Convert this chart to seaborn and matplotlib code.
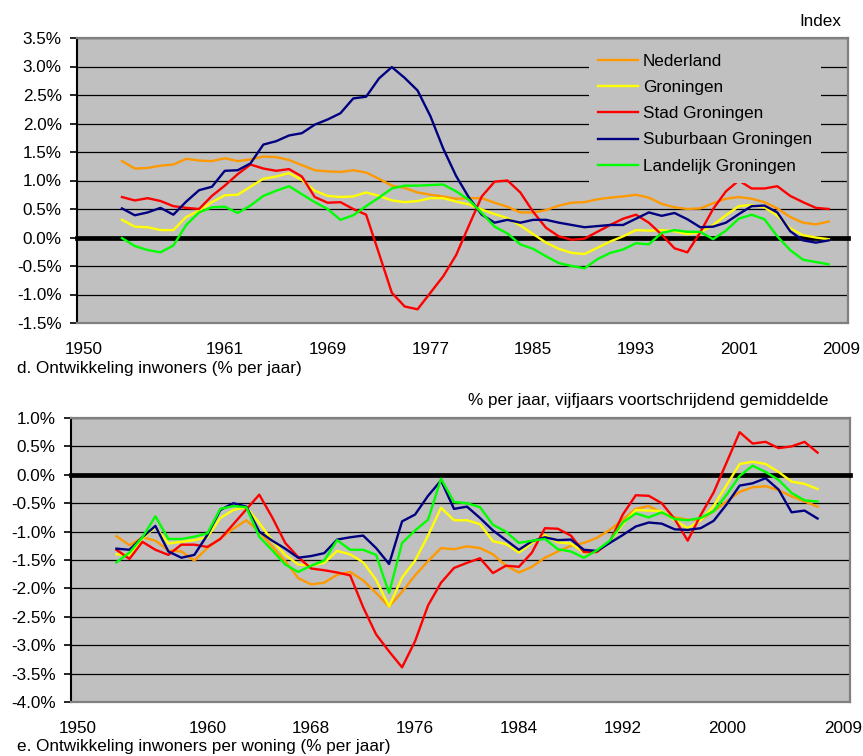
import numpy as np
import pandas as pd
import seaborn as sns
import matplotlib
matplotlib.use("Agg")
import matplotlib.pyplot as plt
from matplotlib.ticker import FuncFormatter, MultipleLocator

plt.rcParams['font.family'] = ['Liberation Sans', 'DejaVu Sans']

# ---------------- data ----------------
series_names = ["Nederland", "Groningen", "Stad Groningen", "Suburbaan Groningen", "Landelijk Groningen"]
colors = ["#FF9900", "#FFFF00", "#FF0000", "#000080", "#00FF00"]

years_d = list(range(1953, 2009))   # panel d: 1953-2008
years_e = list(range(1953, 2008))   # panel e: 1953-2007

# d. Ontwikkeling inwoners (% per jaar)
d_nederland = [1.34, 1.21, 1.22, 1.26, 1.28, 1.38, 1.35, 1.34, 1.39, 1.34, 1.37, 1.42, 1.41, 1.36, 1.27,
               1.18, 1.16, 1.15, 1.18, 1.14, 1.03, 0.91, 0.87, 0.79, 0.75, 0.72, 0.68, 0.69, 0.69, 0.61,
               0.54, 0.44, 0.44, 0.48, 0.56, 0.61, 0.62, 0.67, 0.70, 0.72, 0.75, 0.70, 0.59, 0.53, 0.50,
               0.51, 0.60, 0.68, 0.71, 0.68, 0.62, 0.51, 0.36, 0.26, 0.23, 0.28]
d_groningen = [0.31, 0.19, 0.18, 0.13, 0.13, 0.36, 0.47, 0.62, 0.74, 0.75, 0.89, 1.03, 1.07, 1.13, 1.01,
               0.82, 0.73, 0.71, 0.72, 0.79, 0.73, 0.65, 0.62, 0.64, 0.69, 0.69, 0.63, 0.58, 0.49, 0.41,
               0.34, 0.21, 0.06, -0.09, -0.20, -0.27, -0.29, -0.18, -0.07, 0.02, 0.13, 0.12, 0.13, 0.11,
               0.06, 0.09, 0.22, 0.39, 0.55, 0.57, 0.53, 0.38, 0.16, 0.04, 0.00, -0.03]
d_stad = [0.71, 0.65, 0.69, 0.64, 0.55, 0.52, 0.50, 0.73, 0.91, 1.11, 1.28, 1.21, 1.17, 1.20, 1.07,
          0.71, 0.61, 0.62, 0.50, 0.40, -0.28, -0.97, -1.21, -1.26, -0.97, -0.68, -0.31, 0.21, 0.72, 0.98,
          1.00, 0.79, 0.45, 0.17, 0.02, -0.04, -0.02, 0.10, 0.22, 0.33, 0.40, 0.26, 0.05, -0.19, -0.26,
          0.09, 0.50, 0.81, 1.00, 0.86, 0.86, 0.90, 0.73, 0.62, 0.52, 0.50]
d_suburbaan = [0.51, 0.39, 0.44, 0.52, 0.40, 0.63, 0.83, 0.89, 1.17, 1.18, 1.30, 1.63, 1.69, 1.79, 1.83,
               1.98, 2.07, 2.18, 2.44, 2.47, 2.79, 2.99, 2.80, 2.58, 2.13, 1.56, 1.08, 0.70, 0.40, 0.26,
               0.31, 0.26, 0.31, 0.31, 0.26, 0.22, 0.18, 0.20, 0.22, 0.22, 0.33, 0.44, 0.38, 0.43, 0.32,
               0.18, 0.19, 0.26, 0.41, 0.55, 0.56, 0.44, 0.11, -0.05, -0.09, -0.05]
d_landelijk = [-0.01, -0.15, -0.22, -0.26, -0.14, 0.22, 0.44, 0.53, 0.54, 0.43, 0.56, 0.73, 0.82, 0.90, 0.76,
               0.62, 0.50, 0.31, 0.39, 0.55, 0.70, 0.86, 0.91, 0.91, 0.92, 0.93, 0.81, 0.66, 0.43, 0.19,
               0.07, -0.12, -0.20, -0.33, -0.45, -0.50, -0.54, -0.38, -0.27, -0.21, -0.10, -0.12, 0.08, 0.13,
               0.10, 0.10, -0.03, 0.12, 0.33, 0.40, 0.32, 0.02, -0.22, -0.39, -0.43, -0.47]

# e. Ontwikkeling inwoners per woning (% per jaar)
e_nederland = [-1.08, -1.24, -1.10, -1.16, -1.33, -1.35, -1.51, -1.29, -1.12, -0.95, -0.80, -1.00, -1.26, -1.52,
               -1.82, -1.93, -1.90, -1.76, -1.71, -1.86, -2.08, -2.32, -2.06, -1.77, -1.52, -1.29, -1.31, -1.26,
               -1.29, -1.40, -1.60, -1.72, -1.62, -1.46, -1.35, -1.25, -1.20, -1.11, -0.97, -0.79, -0.60, -0.55,
               -0.67, -0.75, -0.79, -0.79, -0.64, -0.47, -0.30, -0.22, -0.20, -0.27, -0.38, -0.47, -0.56]
e_groningen = [-1.40, -1.41, -1.12, -0.92, -1.21, -1.18, -1.15, -1.10, -0.76, -0.62, -0.57, -0.85, -1.16, -1.41,
               -1.58, -1.60, -1.55, -1.34, -1.40, -1.54, -1.85, -2.32, -1.81, -1.51, -1.07, -0.58, -0.80, -0.80,
               -0.87, -1.17, -1.22, -1.37, -1.20, -1.06, -1.19, -1.21, -1.37, -1.35, -1.17, -0.87, -0.62, -0.63,
               -0.64, -0.80, -0.94, -0.80, -0.55, -0.18, 0.19, 0.23, 0.19, 0.05, -0.12, -0.16, -0.25]
e_stad = [-1.32, -1.48, -1.18, -1.32, -1.41, -1.23, -1.23, -1.27, -1.13, -0.87, -0.61, -0.35, -0.75, -1.20,
          -1.45, -1.65, -1.68, -1.72, -1.77, -2.33, -2.81, -3.11, -3.39, -2.93, -2.30, -1.90, -1.64, -1.55,
          -1.47, -1.73, -1.60, -1.62, -1.37, -0.94, -0.95, -1.07, -1.36, -1.36, -1.18, -0.70, -0.36, -0.37,
          -0.50, -0.78, -1.16, -0.71, -0.31, 0.22, 0.75, 0.55, 0.58, 0.47, 0.50, 0.58, 0.39]
e_suburbaan = [-1.30, -1.32, -1.10, -0.90, -1.35, -1.46, -1.41, -1.06, -0.62, -0.50, -0.56, -1.00, -1.16, -1.30,
               -1.46, -1.43, -1.38, -1.14, -1.10, -1.07, -1.29, -1.57, -0.82, -0.70, -0.37, -0.10, -0.60, -0.56,
               -0.76, -0.98, -1.15, -1.32, -1.17, -1.10, -1.15, -1.14, -1.32, -1.34, -1.20, -1.06, -0.91, -0.84,
               -0.86, -0.96, -0.97, -0.94, -0.81, -0.52, -0.19, -0.15, -0.06, -0.26, -0.66, -0.63, -0.77]
e_landelijk = [-1.54, -1.37, -1.10, -0.73, -1.13, -1.13, -1.09, -1.03, -0.60, -0.55, -0.57, -1.09, -1.33, -1.58,
               -1.71, -1.60, -1.51, -1.15, -1.32, -1.32, -1.41, -2.08, -1.20, -0.98, -0.79, -0.07, -0.48, -0.50,
               -0.57, -0.88, -1.00, -1.20, -1.16, -1.13, -1.31, -1.35, -1.46, -1.33, -1.16, -0.84, -0.68, -0.75,
               -0.66, -0.78, -0.80, -0.76, -0.64, -0.35, -0.02, 0.16, 0.05, -0.09, -0.32, -0.45, -0.47]

xticks_d = [1950, 1961, 1969, 1977, 1985, 1993, 2001, 2009]
xticks_e = [1950, 1960, 1968, 1976, 1984, 1992, 2000, 2009]

title_d = "d. Ontwikkeling inwoners (% per jaar)"
title_e = "e. Ontwikkeling inwoners per woning (% per jaar)"
note_d = "Index"
note_e = "% per jaar, vijfjaars voortschrijdend gemiddelde"


def long_df(years, arrays):
    frames = []
    for name, vals in zip(series_names, arrays):
        frames.append(pd.DataFrame({"jaar": years, "waarde": vals, "reeks": name}))
    return pd.concat(frames, ignore_index=True)


df_d = long_df(years_d, [d_nederland, d_groningen, d_stad, d_suburbaan, d_landelijk])
df_e = long_df(years_e, [e_nederland, e_groningen, e_stad, e_suburbaan, e_landelijk])
palette = dict(zip(series_names, colors))

W, H = 863, 756
fig = plt.figure(figsize=(W / 100, H / 100), dpi=100)
fig.patch.set_facecolor("white")


def px_axes(l, t, r, b):
    return fig.add_axes([l / W, 1 - b / H, (r - l) / W, (b - t) / H])


ax1 = px_axes(77, 38, 848, 323)
ax2 = px_axes(71, 418, 850, 702)

FS = 12.3
pct = FuncFormatter(lambda v, p: f"{v:.1f}%".replace("\u2212", "-"))


def style(ax, df, ylim, xticks, xlabel_pad):
    ax.set_facecolor("#C0C0C0")
    sns.lineplot(data=df, x="jaar", y="waarde", hue="reeks", hue_order=series_names,
                 palette=palette, linewidth=1.7, ax=ax, legend=True, zorder=4)
    ax.set_xlim(1949.5, 2009.5)
    ax.set_ylim(*ylim)
    ax.yaxis.set_major_locator(MultipleLocator(0.5))
    ax.yaxis.set_major_formatter(pct)
    ax.set_xticks(xticks)
    ax.set_xticklabels([str(x) for x in xticks])
    ax.tick_params(axis="x", length=0, pad=xlabel_pad, labelsize=FS, colors="black")
    ax.tick_params(axis="y", length=5, width=1.2, direction="out", pad=6, labelsize=FS, colors="black")
    ax.grid(True, axis="y", color="black", linewidth=0.9, zorder=1)
    ax.grid(False, axis="x")
    ax.set_axisbelow(True)
    ax.axhline(0, color="black", linewidth=3.4, zorder=3, clip_on=False)
    ax.set_xlabel("")
    ax.set_ylabel("")
    for s in ["top", "right", "bottom"]:
        ax.spines[s].set_color("#808080")
        ax.spines[s].set_linewidth(1.6)
    ax.spines["left"].set_color("black")
    ax.spines["left"].set_linewidth(1.5)


style(ax1, df_d, (-1.5, 3.5), xticks_d, 14)
style(ax2, df_e, (-4.0, 1.0), xticks_e, 14)

ax2.get_legend().remove()
handles, labels = ax1.get_legend_handles_labels()
ax1.get_legend().remove()
leg = ax1.legend(handles, labels, loc="upper left", bbox_to_anchor=(0.664, 0.978),
                 borderaxespad=0, frameon=True, facecolor="#C0C0C0", edgecolor="none",
                 framealpha=1, fancybox=False, fontsize=FS, handlelength=2.35,
                 handletextpad=0.25, labelspacing=0.66, borderpad=0.55)
for line in leg.get_lines():
    line.set_linewidth(1.7)
leg.set_zorder(5)

fig.text(841 / W, 1 - 21 / H, note_d, ha="right", va="center", fontsize=FS)
fig.text(17 / W, 1 - 368 / H, title_d, ha="left", va="center", fontsize=FS)
fig.text(828 / W, 1 - 400 / H, note_e, ha="right", va="center", fontsize=FS)
fig.text(17 / W, 1 - 747 / H, title_e, ha="left", va="center", fontsize=FS)

fig.savefig("out.png", dpi=100, facecolor="white")
